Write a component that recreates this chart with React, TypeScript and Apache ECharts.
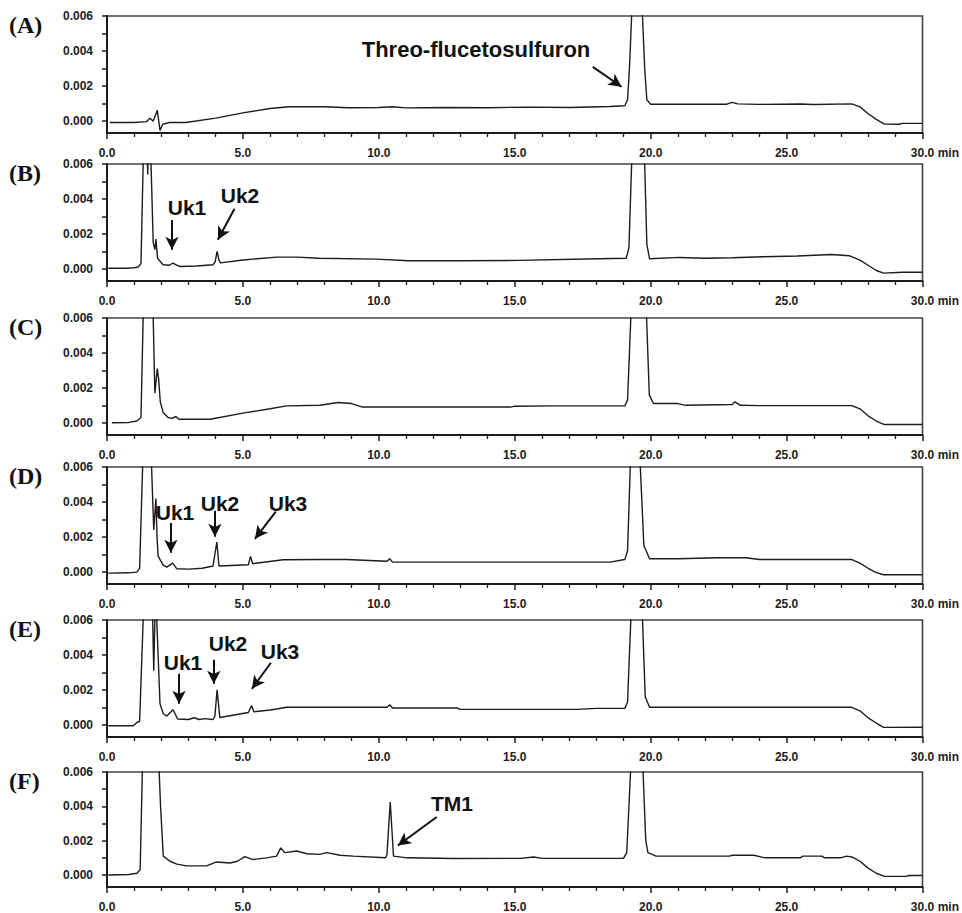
import React, { useEffect, useRef } from "react";
import * as echarts from "echarts";

// ---------- data ----------
const panelLabels = ["(A)", "(B)", "(C)", "(D)", "(E)", "(F)"];
const yLabelValues = [0, 0.002, 0.004, 0.006];
const yTickValues = [0, 0.001, 0.002, 0.003, 0.004, 0.005, 0.006];
const xMin = 0;
const xMax = 30;
const xInterval = 5;
const yMin = -0.0007;
const yMax = 0.006;

const traceA: [number, number][] = [
  [0.1, -0.0001], [1.0, -0.0001], [1.45, -0.00005], [1.58, 0.00015], [1.7, -0.00002],
  [1.85, 0.0006], [1.95, -0.00055], [2.05, -0.0002], [2.3, -0.0001], [2.9, -0.0001],
  [4.0, 0.00015], [5.0, 0.00045], [6.0, 0.0007], [6.7, 0.0008], [8.0, 0.0008],
  [8.9, 0.00075], [10.0, 0.00076], [10.5, 0.0008], [11.0, 0.00074], [12.5, 0.00076],
  [14.0, 0.00075], [15.5, 0.00078], [17.0, 0.00076], [18.5, 0.00082], [19.05, 0.00086],
  [19.15, 0.0012], [19.22, 0.003], [19.3, 0.006], [19.5, 0.02], [19.7, 0.006],
  [19.78, 0.003], [19.86, 0.0012], [20.0, 0.00095], [22.8, 0.00095], [23.0, 0.00105],
  [23.2, 0.00097], [24.0, 0.00094], [25.5, 0.00096], [26.0, 0.00093], [27.4, 0.00097],
  [27.7, 0.0008], [28.0, 0.0004], [28.3, 0.00008], [28.6, -0.00019], [29.15, -0.0002],
  [29.25, -0.00015], [30, -0.00015],
];

const traceB: [number, number][] = [
  [0.05, 0.00003], [0.7, 0.00003], [1.0, 0.00006], [1.15, 0.0001], [1.25, 0.0003],
  [1.33, 0.006], [1.4, 0.012], [1.5, 0.0054], [1.55, 0.012], [1.62, 0.006],
  [1.7, 0.0015], [1.76, 0.0011], [1.8, 0.0017], [1.86, 0.0006], [2.06, 0.00023],
  [2.3, 0.0002], [2.42, 0.00033], [2.6, 0.00018], [2.7, 0.00013], [3.3, 0.00016],
  [3.9, 0.00023], [3.98, 0.0004], [4.05, 0.001], [4.12, 0.0005], [4.18, 0.00034],
  [5.0, 0.0005], [6.25, 0.00067], [7.0, 0.00067], [7.8, 0.0006], [9.9, 0.00055],
  [11.1, 0.00046], [13.0, 0.00046], [15.1, 0.00048], [18.1, 0.00057], [19.1, 0.0006],
  [19.2, 0.0012], [19.3, 0.006], [19.55, 0.02], [19.78, 0.006], [19.86, 0.0014],
  [19.96, 0.00057], [21.06, 0.00065], [22.0, 0.0006], [23.0, 0.00063], [24.15, 0.00069],
  [25.4, 0.00073], [26.65, 0.00082], [27.3, 0.00075], [27.7, 0.0005], [28.0, 0.0002],
  [28.3, -0.0001], [28.57, -0.00025], [29.27, -0.0002], [30, -0.0002],
];

const traceC: [number, number][] = [
  [0.18, 0], [0.8, 0.00002], [1.1, 0.0001], [1.25, 0.0003], [1.33, 0.006],
  [1.5, 0.015], [1.7, 0.006], [1.76, 0.0017], [1.85, 0.0031], [1.9, 0.0025],
  [1.96, 0.0012], [2.07, 0.00057], [2.25, 0.0003], [2.4, 0.00025], [2.53, 0.00036],
  [2.65, 0.0002], [3.8, 0.0002], [5.0, 0.00055], [6.0, 0.0008], [6.6, 0.00097],
  [7.83, 0.001], [8.5, 0.00116], [9.0, 0.0011], [9.4, 0.0009], [12.0, 0.0009],
  [14.85, 0.0009], [15.0, 0.00095], [16.4, 0.00097], [19.05, 0.00097], [19.15, 0.0013],
  [19.27, 0.006], [19.55, 0.02], [19.85, 0.006], [19.95, 0.0016], [20.1, 0.0011],
  [21.0, 0.0011], [21.3, 0.001], [23.0, 0.00105], [23.1, 0.0012], [23.3, 0.001],
  [24.0, 0.00098], [27.4, 0.00098], [27.7, 0.0008], [28.0, 0.0004], [28.3, 0.0001],
  [28.6, -0.0001], [30, -0.0001],
];

const traceD: [number, number][] = [
  [0.05, -0.00008], [0.8, -0.00006], [1.1, -0.00002], [1.2, 0.0002], [1.31, 0.006],
  [1.5, 0.015], [1.64, 0.006], [1.72, 0.0024], [1.8, 0.0042], [1.84, 0.002],
  [1.88, 0.0009], [2.06, 0.0004], [2.2, 0.00027], [2.42, 0.0005], [2.57, 0.00017],
  [3.0, 0.00015], [3.5, 0.0002], [3.9, 0.00033], [4.04, 0.0017], [4.12, 0.00033],
  [5.2, 0.0004], [5.28, 0.00088], [5.36, 0.00046], [6.48, 0.00069], [7.83, 0.0007],
  [8.8, 0.0007], [10.3, 0.0006], [10.4, 0.00075], [10.5, 0.00055], [12.0, 0.00055],
  [15.0, 0.00055], [18.5, 0.00055], [19.05, 0.0007], [19.15, 0.0012], [19.25, 0.006],
  [19.45, 0.02], [19.62, 0.006], [19.75, 0.0015], [19.96, 0.00075], [21.0, 0.00075],
  [22.5, 0.0008], [23.5, 0.0008], [24.0, 0.0007], [27.4, 0.0007], [27.7, 0.0005],
  [28.0, 0.0002], [28.3, -0.00005], [28.57, -0.00017], [30, -0.00017],
];

const traceE: [number, number][] = [
  [0.05, -0.00006], [0.97, -0.00006], [1.1, 0.00013], [1.2, 0.0002], [1.33, 0.006],
  [1.5, 0.015], [1.68, 0.006], [1.72, 0.0031], [1.76, 0.006], [1.79, 0.012],
  [1.83, 0.006], [1.95, 0.0012], [2.07, 0.00063], [2.2, 0.0005], [2.43, 0.00086],
  [2.6, 0.00033], [3.0, 0.0003], [3.2, 0.0004], [3.4, 0.0003], [3.6, 0.00035],
  [3.9, 0.0003], [3.97, 0.0005], [4.05, 0.002], [4.15, 0.00042], [5.2, 0.0007],
  [5.32, 0.0011], [5.4, 0.00074], [6.0, 0.00085], [6.24, 0.0009], [6.6, 0.001],
  [7.83, 0.001], [10.3, 0.001], [10.4, 0.00115], [10.5, 0.00096], [12.9, 0.00096],
  [13.0, 0.00088], [17.3, 0.00088], [18.0, 0.00094], [19.05, 0.00094], [19.15, 0.0013],
  [19.27, 0.006], [19.5, 0.02], [19.7, 0.006], [19.8, 0.0016], [19.96, 0.001],
  [27.4, 0.001], [27.7, 0.0008], [28.0, 0.0004], [28.3, 0.0001], [28.57, -0.00015],
  [30, -0.00014],
];

const traceF: [number, number][] = [
  [0.05, 0], [0.8, 0.00003], [1.1, 0.0001], [1.22, 0.0003], [1.3, 0.006],
  [1.6, 0.02], [1.92, 0.006], [1.97, 0.004], [2.07, 0.0011], [2.32, 0.0008],
  [2.57, 0.00063], [2.93, 0.00053], [3.67, 0.00053], [4.03, 0.00076], [4.52, 0.0007],
  [4.8, 0.0008], [5.07, 0.00107], [5.37, 0.0009], [5.87, 0.001], [6.24, 0.0011],
  [6.39, 0.00158], [6.54, 0.0013], [6.98, 0.0014], [7.35, 0.00124], [7.83, 0.0012],
  [8.08, 0.0013], [8.57, 0.00115], [9.06, 0.0011], [10.25, 0.001], [10.3, 0.0012],
  [10.42, 0.00425], [10.54, 0.0011], [11.04, 0.001], [12.75, 0.00096], [15.2, 0.00097],
  [15.7, 0.00105], [16.0, 0.00097], [19.0, 0.00097], [19.12, 0.0013], [19.26, 0.006],
  [19.5, 0.02], [19.72, 0.006], [19.82, 0.002], [19.9, 0.0013], [20.2, 0.0011],
  [22.9, 0.0011], [23.0, 0.00115], [23.8, 0.00115], [24.2, 0.001], [25.5, 0.001],
  [25.6, 0.0011], [26.3, 0.0011], [26.4, 0.001], [27.0, 0.001], [27.2, 0.0011],
  [27.4, 0.00105], [27.7, 0.0008], [28.0, 0.0004], [28.3, 0.0001], [28.6, -0.00008],
  [29.4, -0.00008], [29.5, -0.00003], [30, -0.00003],
];

const traces = [traceA, traceB, traceC, traceD, traceE, traceF];

type Arrow = { from: [number, number]; to: [number, number] };
const arrowsA: Arrow[] = [{ from: [17.87, 0.00309], to: [18.93, 0.00195] }];
const arrowsB: Arrow[] = [
  { from: [2.39, 0.0028], to: [2.39, 0.00109] },
  { from: [4.69, 0.00344], to: [4.08, 0.00166] },
];
const arrowsC: Arrow[] = [];
const arrowsD: Arrow[] = [
  { from: [2.35, 0.0028], to: [2.35, 0.00109] },
  { from: [3.97, 0.0035], to: [3.97, 0.002] },
  { from: [6.21, 0.00344], to: [5.44, 0.00189] },
];
const arrowsE: Arrow[] = [
  { from: [2.65, 0.00292], to: [2.65, 0.0012] },
  { from: [3.93, 0.00372], to: [3.93, 0.00235] },
  { from: [6.03, 0.00355], to: [5.33, 0.00206] },
];
const arrowsF: Arrow[] = [{ from: [12.13, 0.00338], to: [10.7, 0.00172] }];
const arrows = [arrowsA, arrowsB, arrowsC, arrowsD, arrowsE, arrowsF];

type Note = { text: string; x: number; y: number; size: number };
const notes: Note[] = [
  { text: "Threo-flucetosulfuron", x: 476, y: 49, size: 22 },
  { text: "Uk1", x: 187, y: 207, size: 21 },
  { text: "Uk2", x: 240, y: 195, size: 21 },
  { text: "Uk1", x: 175, y: 512, size: 21 },
  { text: "Uk2", x: 220, y: 503, size: 21 },
  { text: "Uk3", x: 288, y: 503, size: 21 },
  { text: "Uk1", x: 183, y: 662, size: 21 },
  { text: "Uk2", x: 228, y: 643, size: 21 },
  { text: "Uk3", x: 280, y: 651, size: 21 },
  { text: "TM1", x: 452, y: 803, size: 21 },
];

// ---------- layout ----------
const gridTops = [16, 164, 318, 467, 620, 772];
const gridLeft = 107;
const gridWidth = 816;
const gridHeight = 117;

const SANS = "'Liberation Sans', Arial, sans-serif";
const SERIF = "'Liberation Serif', 'Times New Roman', serif";
const INK = "#1c1c1c";

export default function App() {
  const ref = useRef<HTMLDivElement>(null);
  useEffect(() => {
    if (!ref.current) return;
    const chart = echarts.init(ref.current, undefined, { renderer: "svg" });

    const grid = gridTops.map((top) => ({
      left: gridLeft,
      top,
      width: gridWidth,
      height: gridHeight,
      show: true,
      borderColor: "#444",
      borderWidth: 1.6,
      containLabel: false,
    }));

    const xAxis = gridTops.map((_, i) => ({
      type: "value",
      gridIndex: i,
      min: xMin,
      max: xMax,
      interval: xInterval,
      axisLine: { show: true, onZero: false, lineStyle: { color: INK, width: 2 } },
      axisTick: { show: true, length: 6, lineStyle: { color: INK, width: 1.5 } },
      minorTick: { show: true, splitNumber: 5, length: 4, lineStyle: { color: INK, width: 1.3 } },
      splitLine: { show: false },
      minorSplitLine: { show: false },
      axisLabel: {
        show: true,
        margin: 14,
        fontFamily: SANS,
        fontWeight: "bold",
        fontSize: 12,
        color: INK,
        formatter: (v: number) =>
          v === xMax ? "{p| }{v|" + v.toFixed(1) + "}{m| min}" : v.toFixed(1),
        rich: {
          p: { width: 25, fontFamily: SANS, fontWeight: "bold", fontSize: 12, color: INK },
          v: { fontFamily: SANS, fontWeight: "bold", fontSize: 12, color: INK },
          m: { width: 25, align: "left", fontFamily: SANS, fontWeight: "bold", fontSize: 12, color: INK },
        },
      },
    }));

    const yAxis = gridTops.map((_, i) => ({
      type: "value",
      gridIndex: i,
      min: yMin,
      max: yMax,
      axisLine: { show: true, lineStyle: { color: INK, width: 2 } },
      axisTick: {
        show: true,
        length: 5,
        customValues: yTickValues,
        lineStyle: { color: INK, width: 1.5 },
      },
      splitLine: { show: false },
      axisLabel: {
        show: true,
        margin: 14,
        customValues: yLabelValues,
        fontFamily: SANS,
        fontWeight: "bold",
        fontSize: 12,
        color: INK,
        formatter: (v: number) => v.toFixed(3),
      },
    }));

    const series = traces.map((tr, i) => ({
      type: "line",
      xAxisIndex: i,
      yAxisIndex: i,
      data: tr,
      showSymbol: false,
      symbol: "none",
      clip: true,
      silent: true,
      lineStyle: { color: INK, width: 1.4 },
      markLine: {
        silent: true,
        animation: false,
        label: { show: false },
        lineStyle: { color: "#111", width: 2, type: "solid" },
        emphasis: { disabled: true },
        data: arrows[i].map((a) => [
          { coord: a.from, symbol: "none" },
          { coord: a.to, symbol: "arrow", symbolSize: [10, 13] },
        ]),
      },
    }));

    const graphic: any[] = [];
    panelLabels.forEach((lab, i) => {
      graphic.push({
        type: "text",
        left: 9,
        top: gridTops[i] - 3,
        style: {
          text: lab,
          fontFamily: SERIF,
          fontWeight: "bold",
          fontSize: 24,
          fill: "#111",
        },
      });
    });
    notes.forEach((n) => {
      graphic.push({
        type: "text",
        x: n.x,
        y: n.y,
        style: {
          text: n.text,
          fontFamily: SANS,
          fontWeight: "bold",
          fontSize: n.size,
          fill: "#111",
          align: "center",
          verticalAlign: "middle",
        },
      });
    });

    chart.setOption({
      animation: false,
      backgroundColor: "#fff",
      grid,
      xAxis,
      yAxis,
      series,
      graphic,
    });
    return () => chart.dispose();
  }, []);

  return (
    <div
      ref={ref}
      style={{ position: "absolute", left: 0, top: 0, width: 962, height: 913, background: "#fff" }}
    />
  );
}
